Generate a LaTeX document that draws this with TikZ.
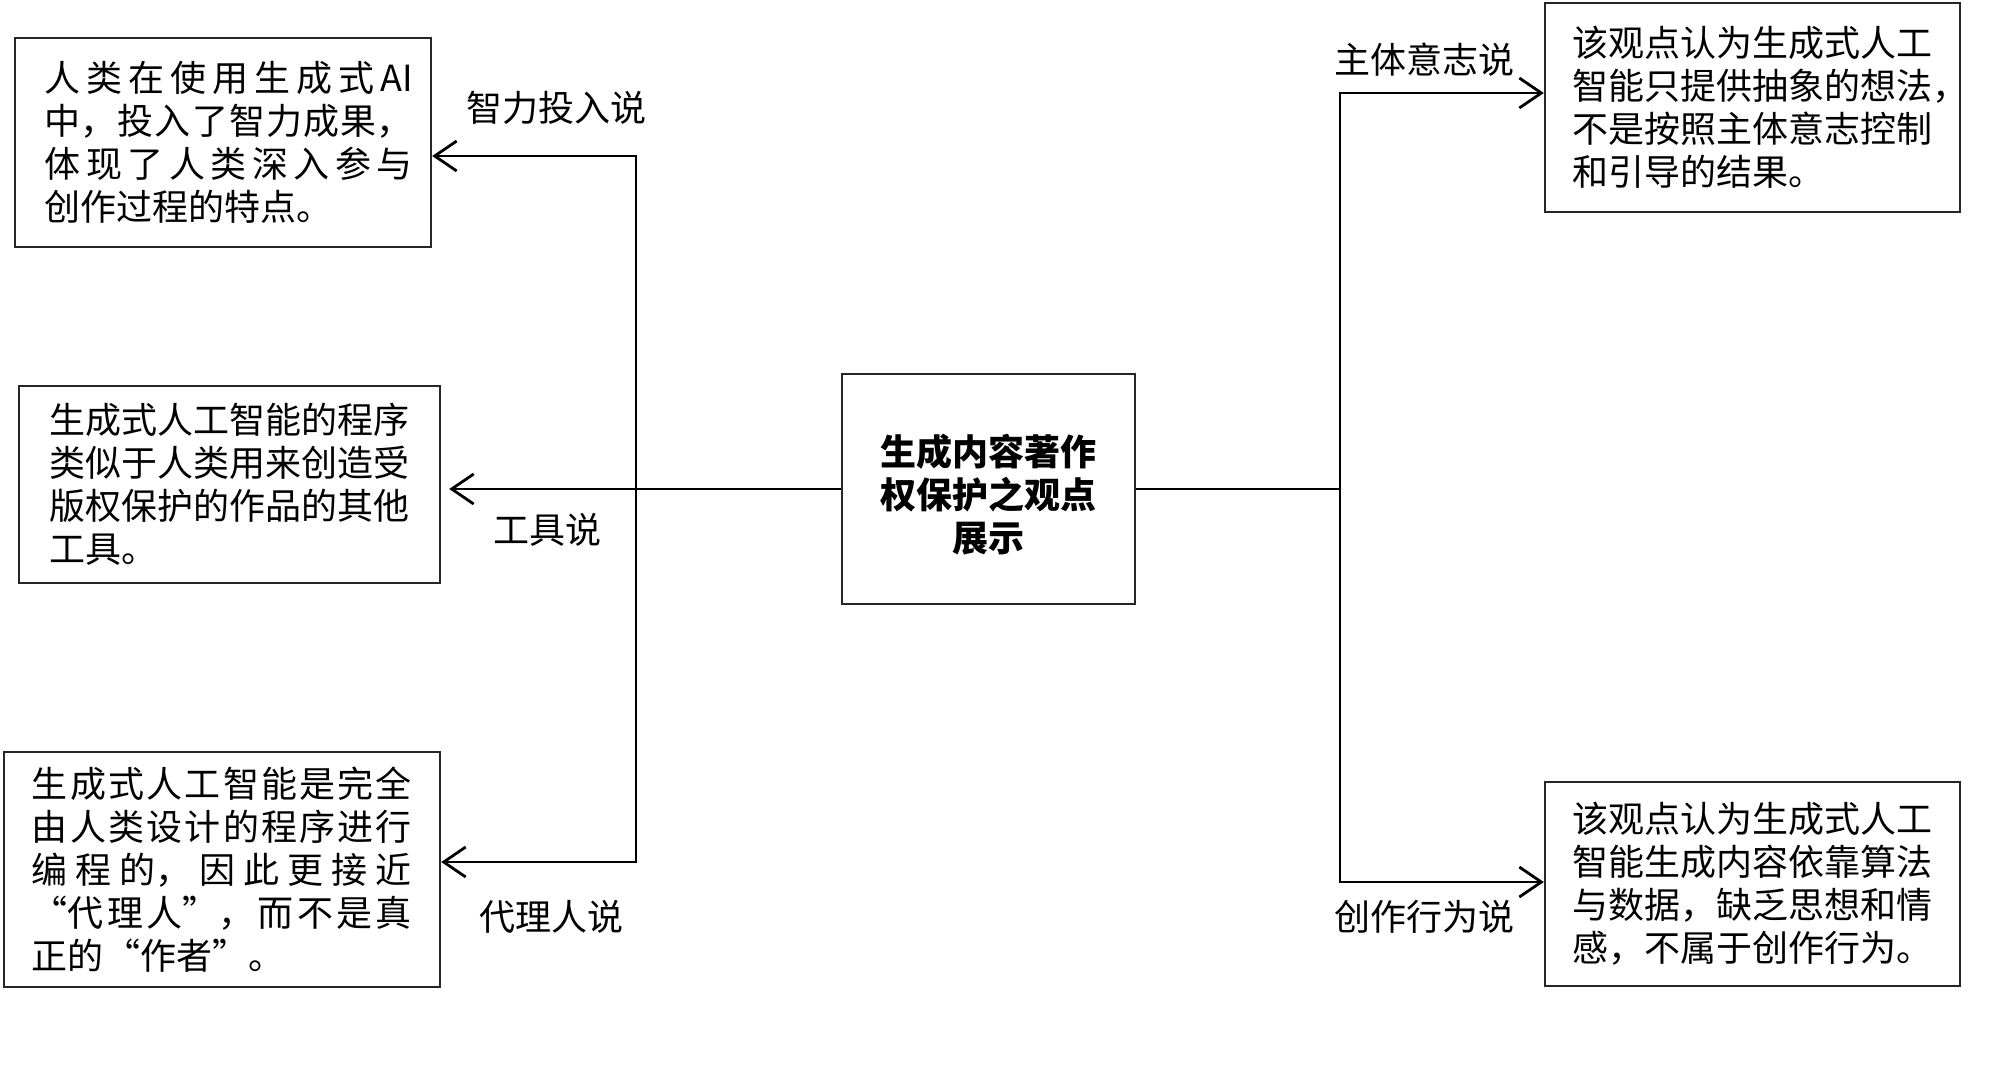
\documentclass[tikz,border=0pt]{standalone}
\usepackage{fontspec}
\newfontfamily\cjk{Noto Sans CJK SC}
\usetikzlibrary{arrows.meta}
\XeTeXlinebreaklocale "zh"
\XeTeXlinebreakskip=0pt plus 10pt
\begin{document}
\begin{tikzpicture}[x=0.5pt,y=-0.5pt,
  txt/.style={font=\cjk\fontsize{18}{21.5}\selectfont},
  box/.style={txt, draw=black!85, line width=1.2pt, rectangle, inner sep=0pt},
  lbl/.style={txt, inner sep=0pt},
  conn/.style={line width=1.4pt, line join=miter},
  arr/.style={conn, -{Straight Barb[length=11pt,width=15pt,line width=1.4pt]}}]
\fill[white] (0,0) rectangle (2000,1072);
\useasboundingbox (0,0) rectangle (2000,1072);

% left boxes
\node[box, minimum width=208pt, minimum height=104.5pt, text width=189.6pt, align=justify] (b1) at (223,142.5)
  {\leftskip=5.6pt\noindent 人类在使用生成式AI\linebreak 中，投入了智力成果，\linebreak 体现了人类深入参与\linebreak 创作过程的特点。\par};
\node[box, minimum width=210.5pt, minimum height=98.5pt, align=left] (b2) at (229.5,484.5)
  {生成式人工智能的程序\\类似于人类用来创造受\\版权保护的作品的其他\\工具。};
\node[box, minimum width=218pt, minimum height=117.5pt, text width=190pt, align=justify] (b3) at (222,869.5)
  {\noindent 生成式人工智能是完全\linebreak 由人类设计的程序进行\linebreak 编程的，因此更接近\linebreak “代理人”，而不是真\linebreak 正的“作者”。};

% centre
\node[box, minimum width=146.5pt, minimum height=115pt, align=center,
      font=\cjk\bfseries\fontsize{18}{21.5}\selectfont] (c) at (988.5,489)
  {\rule{0pt}{21.5pt}生成内容著作\\权保护之观点\\展示};

% right boxes
\node[box, minimum width=207.5pt, minimum height=104.5pt, align=left] (b4) at (1752.5,107.5)
  {该观点认为生成式人工\\智能只提供抽象的想法\rlap{，}\\不是按照主体意志控制\\和引导的结果。};
\node[box, minimum width=207.5pt, minimum height=102pt, align=left] (b5) at (1752.5,884)
  {该观点认为生成式人工\\智能生成内容依靠算法\\与数据，缺乏思想和情\\感，不属于创作行为。};

% junction points
\coordinate (jl) at (636,489);
\coordinate (t1) at (636,156);
\coordinate (t3) at (636,862);
\coordinate (jr) at (1340,489);
\coordinate (t4) at (1340,93);
\coordinate (t5) at (1340,882);

% connectors
\draw[conn] (c.west) -- (jl);
\draw[arr] (jl) -- (t1) -- (t1 -| b1.east);
\draw[arr] (jl) -- (t3) -- (t3 -| b3.east);
\draw[arr] (jl) -- ([xshift=4pt]jl -| b2.east);
\draw[conn] (c.east) -- (jr);
\draw[arr] (jr) -- (t4) -- (t4 -| b4.west);
\draw[arr] (jr) -- (t5) -- (t5 -| b5.west);

% labels
\node[lbl] (l1) at (556,108) {智力投入说};
\node[lbl] (l2) at (547,530) {工具说};
\node[lbl] (l3) at (551,917) {代理人说};
\node[lbl] (l4) at (1424,60) {主体意志说};
\node[lbl] (l5) at (1424,917) {创作行为说};
\end{tikzpicture}
\end{document}
